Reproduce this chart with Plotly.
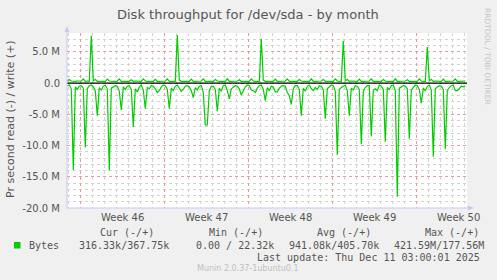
import numpy as np
import plotly.graph_objects as go

# Samples every 4 h (02,06,10,14,18,22 h), time in days since Mon 10 Nov 2025 00:00
start_day = -2 + 22 / 24

# read throughput (MB/s, drawn negative), one line per day
read_m = [
    -0.4,
    -0.3, -0.9, -13.9, -0.6, -1.0, -0.5,   # day -1
    -0.4, -0.8, -10.3, -0.9, -0.4, -0.3,   # day 0
    -0.6, -1.2, -5.2, -0.7, -1.1, -0.5,    # day 1
    -0.3, -0.9, -14.0, -0.8, -0.6, -0.4,   # day 2
    -0.5, -1.3, -4.3, -0.6, -1.0, -0.5,    # day 3
    -0.4, -1.0, -7.0, -0.9, -1.4, -0.6,    # day 4
    -0.3, -1.1, -4.1, -0.7, -0.9, -0.4,    # day 5
    -0.5, -0.9, -1.5, -1.2, -0.6, -0.3,    # day 6
    -0.4, -1.0, -4.1, -0.8, -1.2, -0.5,    # day 7
    -0.3, -0.8, -1.3, -1.0, -0.5, -0.4,    # day 8
    -0.6, -1.2, -2.3, -0.7, -1.1, -0.5,    # day 9
    -0.4, -1.5, -6.7, -6.7, -1.2, -0.5,    # day 10
    -0.5, -1.0, -4.5, -0.8, -1.3, -0.4,    # day 11
    -0.3, -1.2, -2.5, -0.9, -0.7, -0.4,    # day 12
    -0.5, -0.9, -1.9, -1.1, -0.6, -0.3,    # day 13
    -0.4, -1.1, -1.2, -1.5, -0.8, -0.4,    # day 14
    -0.3, -1.0, -2.8, -0.7, -1.2, -0.5,    # day 15
    -0.6, -1.4, -1.4, -0.8, -0.5, -0.4,    # day 16
    -0.5, -1.5, -2.0, -3.4, -0.9, -0.4,    # day 17
    -0.4, -1.0, -5.2, -0.8, -1.3, -0.5,    # day 18
    -0.3, -0.9, -1.2, -0.7, -1.0, -0.4,    # day 19
    -0.5, -1.1, -5.7, -0.9, -0.6, -0.3,    # day 20
    -0.4, -1.3, -11.5, -1.0, -0.7, -0.5,   # day 21
    -0.3, -1.2, -5.2, -0.8, -1.1, -0.4,    # day 22
    -0.5, -1.0, -9.8, -1.3, -0.7, -0.4,    # day 23
    -0.4, -8.5, -1.1, -0.9, -1.2, -0.3,    # day 24
    -0.5, -1.0, -9.4, -0.7, -1.0, -0.4,    # day 25
    -0.3, -1.2, -18.2, -0.8, -0.6, -0.4,   # day 26
    -0.5, -0.9, -8.9, -1.1, -0.7, -0.3,    # day 27
    -0.4, -1.0, -3.2, -0.8, -1.2, -0.5,    # day 28
    -0.3, -1.1, -11.8, -0.9, -0.6, -0.4,   # day 29
    -0.5, -1.0, -10.6, -1.2, -0.7, -0.4,   # day 30
    -0.3, -1.2, -1.2, -0.8, -0.5, -0.6,    # day 31
    -0.4,
]

# write throughput (MB/s, positive)
write_m = [
    0.35,
    0.6, 0.35, 0.3, 0.3, 0.35, 0.3,    # day -1
    0.35, 0.7, 0.3, 0.35, 0.3, 7.6,    # day 0
    0.4, 0.6, 0.3, 0.3, 0.35, 0.3,     # day 1
    0.3, 0.65, 0.35, 0.3, 0.3, 0.3,    # day 2
    0.35, 0.7, 0.3, 0.3, 0.35, 0.3,    # day 3
    0.3, 0.55, 0.3, 0.35, 0.3, 0.3,    # day 4
    0.3, 0.7, 0.35, 0.3, 0.3, 0.35,    # day 5
    0.3, 0.6, 0.3, 0.3, 0.35, 0.3,     # day 6
    0.35, 0.7, 0.3, 0.3, 0.3, 0.3,     # day 7
    7.7, 0.5, 0.3, 0.35, 0.3, 0.3,     # day 8
    0.3, 0.65, 0.3, 0.3, 0.35, 0.3,    # day 9
    0.35, 0.7, 0.3, 0.3, 0.3, 0.3,     # day 10
    0.3, 0.6, 0.35, 0.3, 0.3, 0.35,    # day 11
    0.3, 0.7, 0.3, 0.3, 0.35, 0.3,     # day 12
    0.35, 0.55, 0.3, 0.3, 0.3, 0.3,    # day 13
    0.3, 0.7, 0.35, 0.3, 0.3, 0.3,     # day 14
    7.1, 0.5, 0.3, 0.35, 0.3, 0.3,     # day 15
    0.3, 0.65, 0.3, 0.3, 0.35, 0.3,    # day 16
    0.35, 0.7, 0.3, 0.3, 0.3, 0.3,     # day 17
    0.3, 0.6, 0.35, 0.3, 0.3, 0.35,    # day 18
    0.3, 0.7, 0.3, 0.3, 0.35, 0.3,     # day 19
    0.35, 0.6, 0.3, 0.3, 0.3, 0.3,     # day 20
    0.3, 0.7, 0.35, 0.3, 0.3, 6.8,     # day 21
    0.4, 0.6, 0.3, 0.35, 0.3, 0.3,     # day 22
    0.3, 0.65, 0.3, 0.3, 0.35, 0.3,    # day 23
    0.35, 0.7, 0.3, 0.3, 0.3, 0.3,     # day 24
    0.3, 0.6, 0.35, 0.3, 0.3, 0.35,    # day 25
    0.3, 0.7, 0.3, 0.3, 0.35, 0.3,     # day 26
    0.35, 0.55, 0.3, 0.3, 0.3, 0.3,    # day 27
    0.3, 0.7, 0.35, 0.3, 0.3, 5.8,     # day 28
    0.4, 0.6, 0.3, 0.35, 0.3, 0.3,     # day 29
    0.3, 0.65, 0.3, 0.3, 0.35, 0.3,    # day 30
    0.35, 0.7, 0.3, 0.3, 0.3, 0.3,     # day 31
    0.35,
]

week_starts = [0, 7, 14, 21, 28]
week_labels = ["Week 46", "Week 47", "Week 48", "Week 49", "Week 50"]
y_ticks = [-20e6, -15e6, -10e6, -5e6, 0, 5e6]
y_ticktext = ["-20.0 M", "-15.0 M", "-10.0 M", "-5.0 M", "0.0", "5.0 M"]

legend_headers = ["Cur (-/+)", "Min (-/+)", "Avg (-/+)", "Max (-/+)"]
legend_values = ["316.33k/367.75k", "0.00 / 22.32k", "941.08k/405.70k", "421.59M/177.56M"]

x = start_day + np.arange(len(read_m)) / 6.0
read_v = np.array(read_m) * 1e6
write_v = np.array(write_m) * 1e6

W, H = 497, 280
L, R, T, B = 67, 467, 33, 208
X0, X1 = -1.108, 32.225
Y0, Y1 = -20e6, 8.04e6

def pxx(p):
    return (p - L) / (R - L)

def pxy(p):
    return (B - p) / (B - T)

GREEN = "#00cc00"
TXT = "#555555"
SANS = "DejaVu Sans"
MONO = "DejaVu Sans Mono"

fig = go.Figure()
fig.add_trace(go.Scatter(x=x, y=read_v, mode="lines", line=dict(color=GREEN, width=1.2),
                         hoverinfo="skip", showlegend=False))
fig.add_trace(go.Scatter(x=x, y=write_v, mode="lines", line=dict(color=GREEN, width=1.2),
                         hoverinfo="skip", showlegend=False))

shapes = []
# black zero rule
shapes.append(dict(type="line", xref="paper", yref="y", x0=0, x1=1, y0=0, y1=0,
                   line=dict(color="#000000", width=1.3)))
AX = "#c8c8f0"
shapes.append(dict(type="line", xref="paper", yref="paper", x0=0, x1=0, y0=0, y1=pxy(29),
                   line=dict(color=AX, width=1)))
shapes.append(dict(type="line", xref="paper", yref="paper", x0=0, x1=pxx(471), y0=0, y1=0,
                   line=dict(color=AX, width=1)))
shapes.append(dict(type="path", xref="paper", yref="paper",
                   path=f"M {pxx(64.5)},{pxy(32)} L {pxx(69.5)},{pxy(32)} L {pxx(67)},{pxy(26)} Z",
                   fillcolor=AX, line=dict(width=0)))
shapes.append(dict(type="path", xref="paper", yref="paper",
                   path=f"M {pxx(468)},{pxy(205.5)} L {pxx(468)},{pxy(210.5)} L {pxx(474)},{pxy(208)} Z",
                   fillcolor=AX, line=dict(width=0)))
# legend colour box
shapes.append(dict(type="rect", xref="paper", yref="paper",
                   x0=pxx(14), x1=pxx(20.5), y0=pxy(248.5), y1=pxy(242),
                   fillcolor=GREEN, line=dict(width=0)))

ann = []
ann.append(dict(text="Disk throughput for /dev/sda - by month", xref="paper", yref="paper",
                x=pxx(248), y=pxy(14), xanchor="center", yanchor="middle", showarrow=False,
                font=dict(family=SANS, size=13, color=TXT)))
ann.append(dict(text="Pr second read (-) / write (+)", xref="paper", yref="paper",
                x=pxx(10), y=pxy(119), xanchor="center", yanchor="middle", showarrow=False,
                textangle=-90, font=dict(family=SANS, size=11, color=TXT)))
ann.append(dict(text="RRDTOOL / TOBI OETIKER", xref="paper", yref="paper",
                x=pxx(488), y=pxy(56), xanchor="center", yanchor="middle", showarrow=False,
                textangle=90, font=dict(family=SANS, size=7.5, color="#c4c4c4")))
for ws, lab in zip(week_starts, week_labels):
    ann.append(dict(text=lab, xref="x", yref="paper", x=ws + 3.5, y=pxy(217.5),
                    xanchor="center", yanchor="middle", showarrow=False,
                    font=dict(family=SANS, size=10, color=TXT)))
head_x = [98, 207, 315, 423]
val_x = [77, 194, 287, 392]
for hx, h in zip(head_x, legend_headers):
    ann.append(dict(text=h, xref="paper", yref="paper", x=pxx(hx), y=pxy(232.5),
                    xanchor="left", yanchor="middle", showarrow=False,
                    font=dict(family=MONO, size=10, color=TXT)))
for vx, v in zip(val_x, legend_values):
    ann.append(dict(text=v.replace(" ", "&nbsp;"), xref="paper", yref="paper", x=pxx(vx), y=pxy(245),
                    xanchor="left", yanchor="middle", showarrow=False,
                    font=dict(family=MONO, size=10, color=TXT)))
ann.append(dict(text="Bytes", xref="paper", yref="paper", x=pxx(27), y=pxy(245),
                xanchor="left", yanchor="middle", showarrow=False,
                font=dict(family=MONO, size=10, color=TXT)))
ann.append(dict(text="Last update: Thu Dec 11 03:00:01 2025".replace(" ", "&nbsp;"),
                xref="paper", yref="paper", x=pxx(482), y=pxy(257),
                xanchor="right", yanchor="middle", showarrow=False,
                font=dict(family=MONO, size=10, color=TXT)))
ann.append(dict(text="Munin 2.0.37-1ubuntu0.1", xref="paper", yref="paper",
                x=pxx(247.5), y=pxy(268.5), xanchor="center", yanchor="middle", showarrow=False,
                font=dict(family=SANS, size=8, color="#c0c0c0")))

fig.update_layout(
    width=W, height=H, autosize=False,
    margin=dict(l=L, r=W - R, t=T, b=H - B, pad=0),
    paper_bgcolor="#f0f0f0", plot_bgcolor="#ffffff",
    showlegend=False, shapes=shapes, annotations=ann,
    xaxis=dict(range=[X0, X1], tickvals=week_starts, ticktext=[""] * len(week_starts),
               showgrid=True, gridcolor="rgba(240,120,120,0.6)", griddash="dot", gridwidth=1,
               zeroline=False, showline=False, ticks="",
               minor=dict(dtick=1, tick0=0, showgrid=True, gridcolor="#d4d4d4",
                          griddash="dot", gridwidth=1, ticks="")),
    yaxis=dict(range=[Y0, Y1], tickvals=y_ticks, ticktext=y_ticktext,
               showgrid=True, gridcolor="rgba(240,120,120,0.6)", griddash="dot", gridwidth=1,
               zeroline=False, showline=False, ticks="", ticklabelstandoff=6,
               tickfont=dict(family=SANS, size=10, color=TXT),
               minor=dict(dtick=1e6, tick0=0, showgrid=True, gridcolor="#d4d4d4",
                          griddash="dot", gridwidth=1, ticks="")),
)

fig.write_html("out.html")
